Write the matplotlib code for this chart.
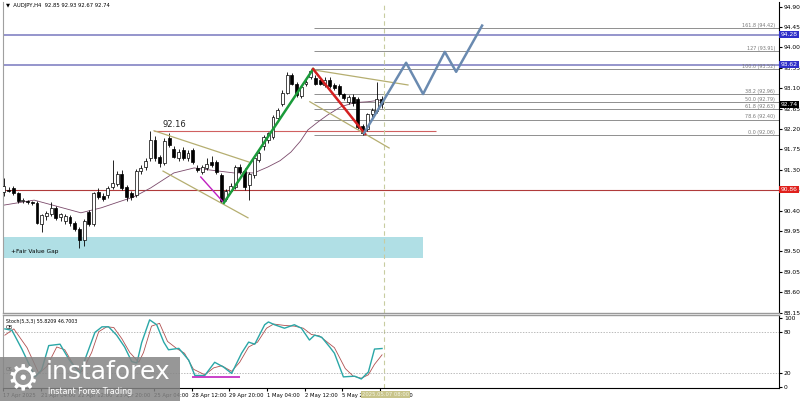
import matplotlib.pyplot as plt
import matplotlib.transforms as mtransforms
from matplotlib.patches import Rectangle
import numpy as np

# AUDJPY H4 candles
opens = [90.81, 90.86, 90.90, 90.79, 90.62, 90.60, 90.58, 90.57, 90.10, 90.27,
         90.32, 90.46, 90.26, 90.16, 90.26, 90.12, 90.00, 89.75, 90.36, 90.10,
         90.80, 90.72, 90.74, 90.92, 90.99, 91.20, 90.92, 90.78, 90.75, 91.27,
         91.36, 91.56, 91.96, 91.58, 91.45, 92.00, 91.76, 91.57, 91.74, 91.57,
         91.74, 91.34, 91.26, 91.34, 91.46, 91.46, 91.18, 90.66, 90.84, 90.93,
         91.36, 91.28, 90.96, 91.18, 91.52, 91.82, 91.96, 92.02, 92.44, 92.76,
         93.00, 93.40, 93.20, 92.92, 93.20, 93.35, 93.32, 93.28, 93.18, 93.28,
         93.16, 93.15, 92.96, 92.80, 92.90, 92.86, 92.26, 92.20, 92.52, 92.60,
         92.85]
highs = [91.12, 90.92, 90.95, 90.82, 90.68, 90.64, 90.62, 90.60, 90.32, 90.38,
         90.58, 90.50, 90.35, 90.33, 90.30, 90.16, 90.04, 90.22, 90.42, 90.82,
         90.90, 90.78, 90.95, 91.52, 91.28, 91.30, 90.96, 90.84, 91.32, 91.40,
         91.56, 92.16, 92.05, 91.62, 92.00, 92.10, 91.82, 91.75, 91.80, 91.74,
         91.78, 91.40, 91.40, 91.56, 91.60, 91.52, 91.22, 90.88, 91.00, 91.40,
         91.42, 91.34, 91.24, 91.60, 91.72, 92.06, 92.14, 92.50, 92.66, 93.05,
         93.45, 93.44, 93.24, 93.16, 93.30, 93.52, 93.40, 93.34, 93.34, 93.35,
         93.22, 93.20, 93.00, 92.94, 92.96, 92.90, 92.30, 92.56, 92.66, 93.24,
         92.93]
lows = [90.72, 90.80, 90.74, 90.56, 90.56, 90.54, 90.52, 90.10, 89.93, 90.20,
        90.28, 90.20, 90.18, 90.10, 90.06, 89.95, 89.57, 89.62, 90.05, 90.05,
        90.66, 90.60, 90.68, 90.88, 90.95, 90.86, 90.60, 90.64, 90.70, 91.20,
        91.30, 91.50, 91.50, 91.36, 91.40, 91.80, 91.55, 91.50, 91.52, 91.50,
        91.42, 91.26, 91.20, 91.30, 91.36, 91.20, 90.57, 90.60, 90.80, 90.88,
        91.20, 90.86, 90.63, 91.12, 91.46, 91.74, 91.90, 91.98, 92.38, 92.70,
        92.96, 93.16, 92.90, 92.88, 93.14, 93.30, 93.16, 93.16, 93.12, 93.10,
        93.06, 92.92, 92.84, 92.74, 92.70, 92.20, 92.06, 92.16, 92.46, 92.56,
        92.67]
closes = [90.94, 90.84, 90.79, 90.60, 90.63, 90.58, 90.56, 90.13, 90.30, 90.34,
          90.46, 90.24, 90.32, 90.28, 90.12, 90.00, 89.75, 90.18, 90.10, 90.78,
          90.70, 90.66, 90.90, 91.00, 91.20, 90.90, 90.70, 90.70, 91.27, 91.34,
          91.50, 91.96, 91.56, 91.45, 91.94, 91.85, 91.59, 91.70, 91.56, 91.68,
          91.46, 91.30, 91.35, 91.43, 91.40, 91.24, 90.62, 90.84, 90.95, 91.36,
          91.24, 90.92, 91.20, 91.56, 91.66, 92.02, 92.10, 92.46, 92.62, 93.00,
          93.40, 93.20, 92.94, 93.12, 93.24, 93.48, 93.20, 93.20, 93.28, 93.14,
          93.10, 92.96, 92.88, 92.90, 92.78, 92.24, 92.12, 92.52, 92.62, 92.85,
          92.74]

# moving average (bar index, price)
ma_x = [0, 6.4, 11, 16.3, 20.6, 24, 27.5, 31.1, 36, 40.3, 43.2, 48.7, 53, 55.9,
        58.5, 60.8, 62.8, 64.4, 66.6, 68.6, 71.4, 74.2, 77.1, 80]
ma_y = [90.52, 90.63, 90.50, 90.35, 90.46, 90.58, 90.70, 90.90, 91.23, 91.34,
        91.30, 91.23, 91.23, 91.36, 91.50, 91.69, 91.93, 92.18, 92.36, 92.51,
        92.69, 92.78, 92.80, 92.84]

# stochastic (5,3,3)
stoch_x = [0, 1.5, 3.6, 6.4, 7.8, 9.3, 11.7, 13.6, 15.9, 17.8, 19.1, 20.6, 22.0,
           23.7, 25.4, 26.9, 28.0, 29.0, 30.7, 32.2, 33.7, 34.7, 36.9, 39.0, 40.3,
           42.4, 44.5, 46.4, 48.1, 50.2, 51.7, 53.0, 55.1, 55.9, 57.2, 59.3, 61.4,
           62.9, 64.6, 65.7, 67.2, 68.9, 69.9, 71.8, 74.2, 75.6, 77.1, 78.4, 80]
stoch_main = [84, 82, 55, 15, 25, 60, 62, 40, 20, 55, 79, 87, 87, 75, 58, 37, 35,
              64, 97, 90, 65, 54, 56, 39, 17, 17, 36, 29, 20, 49, 65, 62, 90, 94,
              90, 85, 90, 85, 68, 75, 72, 58, 49, 15, 16, 12, 22, 55, 55.8]
sig_x = [0, 1.9, 4.7, 7.2, 8.9, 11.0, 12.7, 14.6, 16.3, 18.4, 19.9, 21.6, 23.1,
         24.8, 26.5, 28.4, 29.4, 31.1, 32.8, 34.5, 36.4, 38.1, 40.0, 42.4, 44.3,
         46.0, 48.1, 49.8, 51.7, 53.6, 55.5, 57.0, 59.3, 61.4, 63.3, 65.0, 66.7,
         68.2, 69.9, 72.2, 73.9, 75.6, 77.1, 78.4, 80]
stoch_sig = [75, 84, 57, 20, 30, 58, 54, 32, 22, 50, 80, 87, 86, 70, 50, 36, 50,
             88, 92, 66, 56, 49, 26, 18, 28, 31, 23, 36, 58, 65, 85, 91, 89, 88,
             85, 76, 74, 66, 57, 27, 16, 13, 18, 33, 46.7]

price_ticks = [94.90, 94.45, 94.00, 93.55, 93.10, 92.65, 92.20, 91.75, 91.30,
               90.85, 90.40, 89.95, 89.50, 89.05, 88.60, 88.15]
fib_levels = ['161.8', '127', '100.0', '38.2', '50.0', '61.8', '78.6', '0.0']
fib_prices = [94.42, 93.91, 93.52, 92.96, 92.79, 92.63, 92.40, 92.06]
time_pos = [0, 8, 16, 24, 32, 40, 48, 56, 64, 72, 80]
time_labels = ['17 Apr 2025', '21 Apr 04:00', '22 Apr 12:00', '23 Apr 20:00',
               '25 Apr 04:00', '28 Apr 12:00', '29 Apr 20:00', '1 May 04:00',
               '2 May 12:00', '5 May 20:00', '7 May 04:00']

# drawn objects (bar index, price)
channel1 = ([31.8, 51.9], [92.16, 91.47])
channel2 = ([33.7, 51.7], [91.27, 90.24])
channel3 = ([65.7, 85.6], [93.50, 93.17])
channel4 = ([64.8, 81.6], [92.80, 91.78])
magenta_leg = ([41.7, 46.6], [91.14, 90.57])
green_leg = ([46.6, 65.5], [90.57, 93.52])
red_leg = ([65.5, 76.5], [93.52, 92.09])
proj_x = [76.3, 85.2, 88.8, 93.4, 95.8, 101.3]
proj_y = [92.11, 93.66, 92.97, 93.90, 93.46, 94.48]

W, H = 800, 401


def rect(x0, y0, x1, y1):
    return [x0 / W, 1 - y1 / H, (x1 - x0) / W, (y1 - y0) / H]


fig = plt.figure(figsize=(8, 4.01), dpi=100)
ax = fig.add_axes(rect(3, 2, 779, 313))
ax2 = fig.add_axes(rect(3, 315, 779, 388))

xmin, xmax = -0.2, 164.2
ax.set_xlim(xmin, xmax)
ax.set_ylim(88.14, 95.0)
ax2.set_xlim(xmin, xmax)
ax2.set_ylim(-1, 104)

# fair value gap
ax.add_patch(Rectangle((xmin, 89.35), 88.8 - xmin, 0.47, fc='#b0dfe5', ec='none', zorder=1))
ax.text(1.5, 89.49, '+Fair Value Gap', fontsize=4.2, va='center', zorder=2)

# horizontal levels
for p in [94.28, 93.62]:
    ax.axhline(p, color='#8c8cc8', lw=1.3, zorder=1)
ax.axhline(90.86, color='#b03a3a', lw=0.8, zorder=1)
ax.hlines(92.16, 31.8, 91.5, color='#d06060', lw=0.8, zorder=1)
ax.text(36.2, 92.29, '92.16', fontsize=6, ha='center', va='center', color='#222222')

ax.hlines(fib_prices, 65.6, xmax, color='#8f8f8f', lw=0.7, zorder=1)
tr = mtransforms.blended_transform_factory(ax.transAxes, ax.transData)
for lvl, p in zip(fib_levels, fib_prices):
    ax.text(0.995, p + 0.01, f'{lvl} ({p:.2f})', transform=tr, fontsize=3.5,
            color='#7a7a7a', ha='right', va='bottom')

# moving average
ax.plot(ma_x, ma_y, color='#7b4a6b', lw=0.6, zorder=2)

# candles
idx = np.arange(len(opens))
o = np.array(opens)
c = np.array(closes)
up = c >= o
ax.vlines(idx, lows, highs, color='black', lw=0.6, zorder=3)
ax.bar(idx[up], (c - o)[up], bottom=o[up], width=0.62, color='white',
       edgecolor='black', lw=0.5, zorder=4)
ax.bar(idx[~up], (o - c)[~up], bottom=c[~up], width=0.62, color='black',
       edgecolor='black', lw=0.5, zorder=4)

# trend lines
for xs, ys in [channel1, channel2, channel3, channel4]:
    ax.plot(xs, ys, color='#b5ae70', lw=0.9, zorder=5)
ax.plot(*magenta_leg, color='#c020c0', lw=1.0, zorder=5)
ax.plot(*green_leg, color='#1a9b3a', lw=1.8, zorder=5)
ax.plot(*red_leg, color='#d42020', lw=1.8, zorder=5)
ax.plot(proj_x, proj_y, color='#6a8ab0', lw=1.8, zorder=5)

# current time line
for a in (ax, ax2):
    a.axvline(80.5, color='#c8cca0', lw=0.8, ls=(0, (4, 3)), zorder=1)

# price axis
ax.yaxis.tick_right()
ax.set_yticks(price_ticks)
ax.set_yticklabels([f'{p:.2f}' for p in price_ticks])
ax.tick_params(axis='y', labelsize=4.3, length=2, pad=1.5)
ax.set_xticks([])
for price, label, bg in [(94.28, '94.28', '#2f2fc8'), (93.62, '93.62', '#2f2fc8'),
                         (92.74, '92.74', '#000000'), (90.86, '90.86', '#e0201c')]:
    ax.text(1.002, price, label, transform=ax.get_yaxis_transform(), fontsize=4.3,
            color='white', va='center', ha='left', clip_on=False, zorder=10,
            bbox=dict(boxstyle='square,pad=0.2', fc=bg, ec='none'))

ax.text(0.004, 0.99, '\u25bc  AUDJPY,H4  92.85 92.93 92.67 92.74', transform=ax.transAxes,
        fontsize=3.8, va='center', ha='left')

ax.spines['top'].set_visible(False)
ax.spines['left'].set_color('#a0a0a0')
ax.spines['bottom'].set_color('#9a9a9a')
ax.spines['bottom'].set_linewidth(1.0)
ax.spines['right'].set_linewidth(0.8)

# stochastic panel
ax2.axhline(80, color='#a0a0a0', lw=0.5, ls=(0, (2, 2)))
ax2.axhline(20, color='#a0a0a0', lw=0.5, ls=(0, (2, 2)))
ax2.plot(sig_x, stoch_sig, color='#b05050', lw=0.6, zorder=3)
ax2.plot(stoch_x, stoch_main, color='#2aa7a7', lw=1.0, zorder=4)
ax2.hlines(15, 39.6, 49.8, color='#c020c0', lw=1.2, zorder=5)
ax2.text(0.004, 0.915, 'Stoch(5,3,3) 55.8209 46.7003', transform=ax2.transAxes,
         fontsize=3.4, va='center')
ax2.text(0.004, 0.835, 'OB', transform=ax2.transAxes, fontsize=3.4, va='center')
ax2.text(0.004, 0.25, 'OS', transform=ax2.transAxes, fontsize=3.4, va='center')

ax2.yaxis.tick_right()
ax2.set_yticks([100, 80, 20, 0])
ax2.tick_params(axis='y', labelsize=4.3, length=2, pad=1.5)
ax2.set_xticks([t - 0.4 for t in time_pos])
ax2.set_xticklabels(time_labels, fontsize=3.8, ha='left')
ax2.tick_params(axis='x', length=2, pad=1.5)
ax2.spines['top'].set_color('#9a9a9a')
ax2.spines['top'].set_linewidth(1.0)
ax2.spines['left'].set_color('#a0a0a0')
ax2.spines['right'].set_linewidth(0.8)
ax2.spines['bottom'].set_linewidth(0.8)

tr2 = mtransforms.blended_transform_factory(ax2.transData, ax2.transAxes)
ax2.text(80.8, -0.05, '2025.05.07 08:00', transform=tr2, fontsize=3.8, color='#f4f4e4',
         ha='center', va='top', clip_on=False, zorder=10,
         bbox=dict(boxstyle='square,pad=0.2', fc='#c8c48a', ec='none'))

# watermark
fig.patches.append(Rectangle((0, 0), 180 / W, 44 / H, transform=fig.transFigure,
                             fc='#858585', ec='none', alpha=0.85, zorder=20))
fig.text(23 / W, 1 - 379 / H, '\u2699', fontsize=26, color='white', ha='center',
         va='center', zorder=21)
fig.text(46 / W, 1 - 372 / H, 'instaforex', fontsize=18, color='white', ha='left',
         va='center', zorder=21)
fig.text(48 / W, 1 - 392 / H, 'Instant Forex Trading', fontsize=5.8, color='white',
         ha='left', va='center', zorder=21)

fig.savefig('out.png', dpi=100)
